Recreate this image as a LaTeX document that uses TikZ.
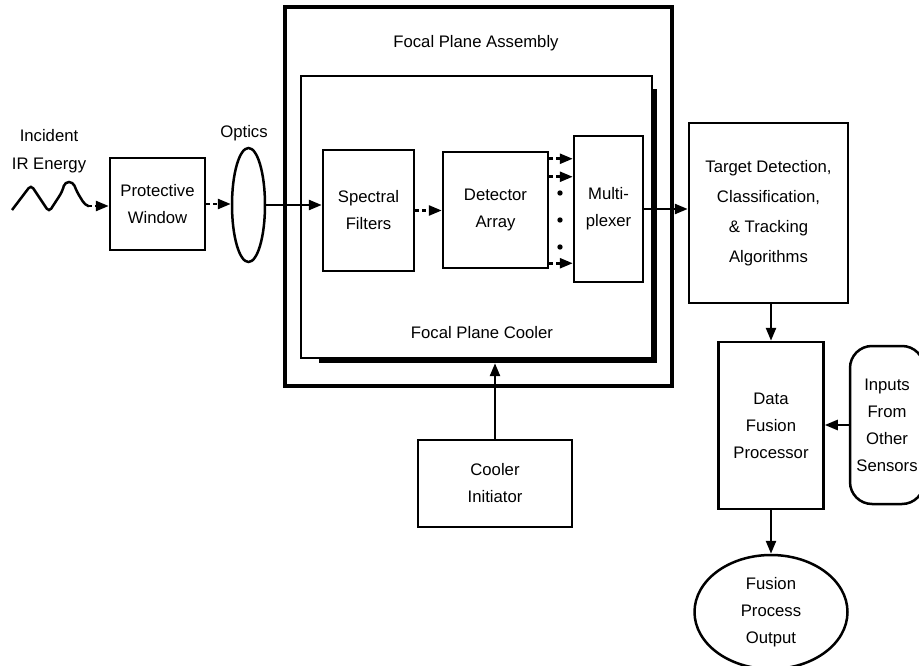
\documentclass[tikz,border=0pt]{standalone}
\usepackage{fontspec}
\setmainfont{Liberation Sans}
\usepackage{tikz}
\usetikzlibrary{calc}
\usetikzlibrary{shapes.geometric, arrows.meta}
\tikzstyle{block} = [rectangle, 
draw=black, 
line width=2.5pt, 
fill=white, 
inner sep=0pt, 
align=center, 
font=\fontsize{16.7}{27}\selectfont]
\tikzstyle{oval} = [block, ellipse]
\tikzstyle{pill} = [block, rounded corners=22pt]
\tikzstyle{bigbox} = [block, line width=4.5pt]
\tikzstyle{shadowbox} = [rectangle, fill=black, inner sep=0pt]
\tikzstyle{plaintext} = [inner sep=0pt, align=center, font=\fontsize{16.7}{28}\selectfont]
\tikzstyle{arrow} = [line width=2.5pt,-{Triangle[length=13pt,width=10pt]}]
\tikzstyle{dashedarrow} = [arrow, dash pattern=on 4pt off 3pt]

\begin{document}
\begin{tikzpicture}[x=1pt, y=-1pt]
    \useasboundingbox (0,0) rectangle (919,666);

    % Incoming energy
    \node (incident) [plaintext] at (49,151) {Incident\\IR Energy};
    \draw [line width=2.5pt, rounded corners=4pt] (12,210) -- (31,185) -- (49,212) -- (62,192) -- (65,182) -- (73,182) -- (77,192) -- (85,205) -- (88,206);
    \coordinate (wend) at (88,206);
    \node (window) [block, minimum width=95, minimum height=92] at (157.5,204) {Protective\\Window};
    \node (optics) [oval, minimum width=33, minimum height=114] at (248.5,205) {};
    \node (opticstext) [plaintext] at (244,133) {Optics};

    % Focal plane
    \node (fpa) [bigbox, minimum width=387, minimum height=379] at (478.5,196.5) {};
    \node (fpatext) [plaintext] at (476,43) {Focal Plane Assembly};
    \node (coolershadow) [shadowbox, minimum width=338, minimum height=274] at (488,226) {};
    \node (cooler) [block, minimum width=351, minimum height=282] at (476.5,217) {};
    \node (coolertext) [plaintext] at (482,333) {Focal Plane Cooler};
    \node (filters) [block, minimum width=91, minimum height=121] at (368.5,210.5) {Spectral\\Filters};
    \node (detector) [block, minimum width=105, minimum height=116] at (495.5,210) {Detector\\Array};
    \node (mux) [block, minimum width=69, minimum height=146] at (608.5,209) {Multi-\\plexer};
    \foreach \y in {193,220,247}
        \fill (560,\y) circle (2.7);

    % Processing chain
    \node (target) [block, minimum width=159, minimum height=180] at (768.5,213) {Target Detection,\\[3pt]Classification,\\[3pt]\& Tracking\\[3pt]Algorithms};
    \node (fusion) [block, minimum width=105, minimum height=167] at (771,425.5) {Data\\Fusion\\Processor};
    \node (inputs) [pill, minimum width=74, minimum height=158] at (887,425) {Inputs\\From\\Other\\Sensors};
    \node (output) [oval, minimum width=153, minimum height=114] at (771,612) {Fusion\\Process\\Output};
    \node (init) [block, minimum width=154, minimum height=87] at (495,483.5) {Cooler\\Initiator};

    % Signal path
    \draw [dashedarrow] (wend) -- (wend -| window.west);
    \draw [dashedarrow] (window.east) -- (window.east -| optics.west);
    \draw [arrow] (optics.east) -- (optics.east -| filters.west);
    \draw [dashedarrow] (filters.east) -- (filters.east -| detector.west);
    \draw [dashedarrow] ([yshift=-8pt]detector.north east) -- ([yshift=-8pt]detector.north east -| mux.west);
    \draw [dashedarrow] ([yshift=-26pt]detector.north east) -- ([yshift=-26pt]detector.north east -| mux.west);
    \draw [dashedarrow] ([yshift=6pt]detector.south east) -- ([yshift=6pt]detector.south east -| mux.west);
    \draw [arrow] (mux.east) -- (mux.east -| target.west);
    \draw [arrow] (fusion.north |- target.south) -- (fusion.north);
    \draw [arrow] (inputs.west) -- (inputs.west -| fusion.east);
    \draw [arrow] (fusion.south) -- (output.north);
    \draw [arrow] (init.north) -- (init.north |- coolershadow.south);
  \end{tikzpicture}
\end{document}
